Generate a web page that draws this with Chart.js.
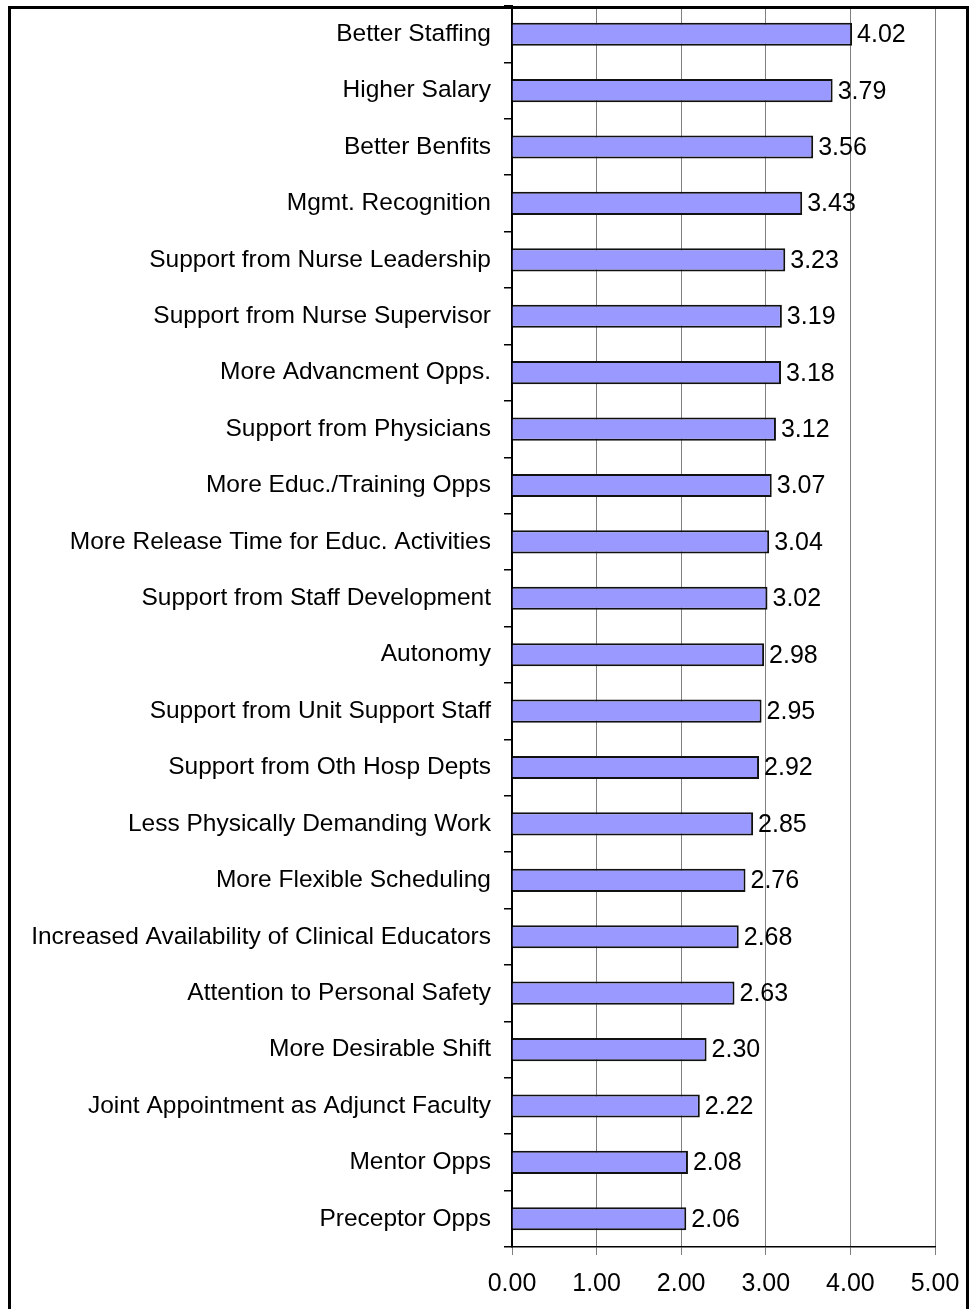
<!DOCTYPE html>
<html>
<head>
<meta charset="utf-8">
<script src="https://cdn.jsdelivr.net/npm/chart.js@4"></script>
<style>
    html, body { margin: 0; padding: 0; background: #fff; }
    #wrap { position: relative; width: 971px; height: 1309px; overflow: hidden; }
    #frame {
        position: absolute; left: 8px; top: 6px; width: 961px; height: 1400px;
        box-sizing: border-box; border: 3px solid #000; pointer-events: none;
    }
</style>
</head>
<body>
<div id="wrap">
    <canvas id="barChart" width="971" height="1309"></canvas>
    <div id="frame"></div>
</div>
<script>
const categories = [
    'Better Staffing', 'Higher Salary', 'Better Benfits', 'Mgmt. Recognition',
    'Support from Nurse Leadership', 'Support from Nurse Supervisor', 'More Advancment Opps.',
    'Support from Physicians', 'More Educ./Training Opps', 'More Release Time for Educ. Activities',
    'Support from Staff Development', 'Autonomy', 'Support from Unit Support Staff',
    'Support from Oth Hosp Depts', 'Less Physically Demanding Work', 'More Flexible Scheduling',
    'Increased Availability of Clinical Educators', 'Attention to Personal Safety',
    'More Desirable Shift', 'Joint Appointment as Adjunct Faculty', 'Mentor Opps', 'Preceptor Opps'
];
const scores = [4.02, 3.79, 3.56, 3.43, 3.23, 3.19, 3.18, 3.12, 3.07, 3.04, 3.02,
    2.98, 2.95, 2.92, 2.85, 2.76, 2.68, 2.63, 2.30, 2.22, 2.08, 2.06];
const xTicks = [0, 1, 2, 3, 4, 5];

const fontFamily = '"Liberation Sans", Arial, sans-serif';

// writes the value just past the end of each bar
const valueLabels = {
    id: 'valueLabels',
    afterDatasetsDraw(chart) {
        const ctx = chart.ctx;
        ctx.save();
        ctx.font = '25px ' + fontFamily;
        ctx.fillStyle = '#000';
        ctx.textAlign = 'left';
        ctx.textBaseline = 'middle';
        chart.getDatasetMeta(0).data.forEach((bar, i) => {
            ctx.fillText(scores[i].toFixed(2), bar.x + 5, bar.y + 1);
        });
        ctx.restore();
    }
};

new Chart(document.getElementById('barChart'), {
    type: 'bar',
    data: {
        labels: categories,
        datasets: [{
            data: scores,
            backgroundColor: '#9999ff',
            borderColor: '#111',
            borderWidth: 2,
            categoryPercentage: 1,
            barPercentage: 0.41
        }]
    },
    options: {
        indexAxis: 'y',
        responsive: false,
        animation: false,
        layout: { padding: { top: 6, right: 36, left: 0, bottom: 0 } },
        plugins: {
            legend: { display: false },
            tooltip: { enabled: false }
        },
        scales: {
            x: {
                min: 0,
                max: 5,
                afterBuildTicks: scale => { scale.ticks = xTicks.map(v => ({ value: v })); },
                afterFit: scale => {
                    scale.height = 1309 - 1247;
                    scale.paddingLeft = 0;
                    scale.paddingRight = 0;
                },
                ticks: {
                    color: '#000',
                    padding: 14,
                    maxRotation: 0,
                    font: { size: 25, family: fontFamily },
                    callback: v => Number(v).toFixed(2)
                },
                grid: { color: '#808080', lineWidth: 1, tickLength: 8, tickColor: '#808080' },
                border: { color: '#000', width: 1.5 }
            },
            y: {
                afterFit: scale => {
                    scale.width = 512;
                    scale.paddingTop = 0;
                    scale.paddingBottom = 0;
                },
                ticks: {
                    color: '#000',
                    padding: 13,
                    autoSkip: false,
                    font: { size: 24.5, family: fontFamily }
                },
                grid: { drawOnChartArea: false, offset: true, tickLength: 8, tickColor: '#000', lineWidth: 1.5 },
                border: { color: '#000', width: 2 }
            }
        }
    },
    plugins: [valueLabels]
});
</script>
</body>
</html>
